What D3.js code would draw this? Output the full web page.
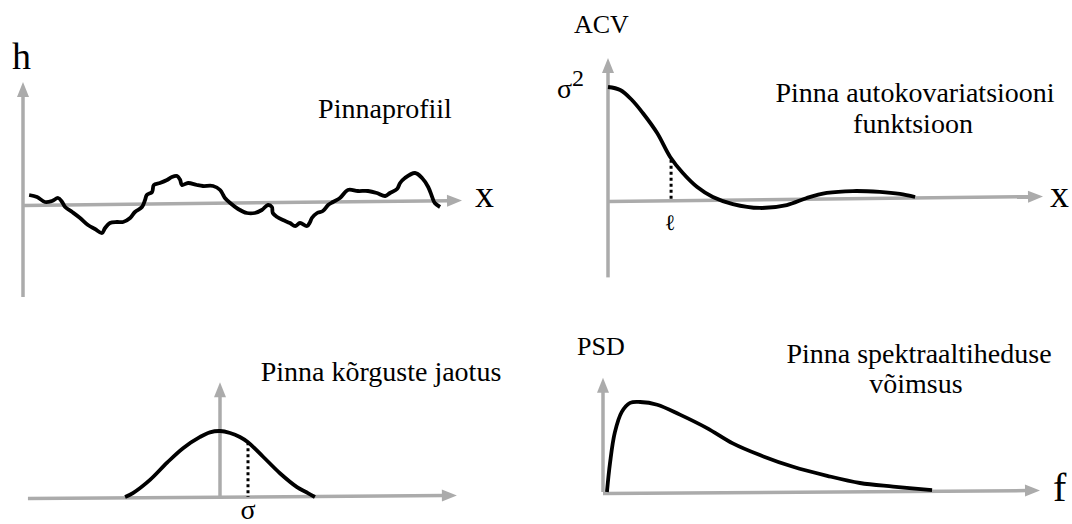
<!DOCTYPE html>
<html>
<head>
<meta charset="utf-8">
<script src="https://cdn.jsdelivr.net/npm/d3@7"></script>
<style>
  body { margin: 0; background: #fff; }
</style>
</head>
<body>
<svg id="chart" width="1072" height="524"></svg>
<script>
// surface profile h(x)
var profileX = [1.4, 3.2, 5.0, 6.6, 8.0, 8.9, 9.6, 11.2, 13.0, 14.8, 16.4, 18.0, 18.7, 19.8, 21.4, 22.8, 24.4, 25.5, 27.1, 27.8,
    28.2, 29.4, 29.8, 31.2, 32.8, 33.9, 35.1, 35.8, 36.2, 37.6, 39.6, 41.0, 43.3, 44.9, 45.6, 46.0, 47.2, 49.0, 51.0, 52.8,
    54.4, 55.8, 56.7, 56.9, 57.9, 59.2, 60.8, 62.0, 63.1, 64.7, 65.4, 65.8, 67.0, 68.3, 69.5, 70.6, 72.2, 74.0, 76.3, 78.6,
    80.6, 82.5, 83.6, 85.2, 85.9, 87.0, 89.3, 90.9, 92.3, 93.2, 93.8, 95.0];
var profileH = [0.8, 0.6, 0.1, 0.2, 0.5, 0.1, -0.4, -0.9, -1.5, -2.2, -2.6, -3.0, -2.5, -2.0, -1.9, -1.9, -1.5, -0.9, -0.4, 0.3,
    0.8, 1.1, 1.8, 2.0, 2.3, 2.6, 2.7, 2.3, 1.8, 2.0, 1.8, 1.7, 1.7, 1.3, 0.8, 0.5, 0.0, -0.6, -1.0, -1.0,
    -0.7, -0.2, -0.4, -1.0, -1.4, -1.7, -2.0, -2.3, -2.0, -2.3, -1.9, -1.5, -1.0, -0.8, -0.2, 0.1, 0.5, 1.3, 1.2, 1.2,
    1.0, 0.7, 1.0, 1.4, 2.0, 2.5, 3.0, 2.5, 1.6, 0.6, 0.0, -0.4];

// autocovariance (normalised to sigma^2 = 1)
var acvX = [0, 2.8, 5.5, 8.0, 11.3, 14.3, 17.2, 20.5, 24.1, 28.7, 34.9, 41.1, 45.7, 50.3, 56.3, 62.5, 67.1, 70.6];
var acvY = [1.0, 0.973, 0.884, 0.768, 0.589, 0.375, 0.232, 0.107, 0.018, -0.045, -0.080, -0.054, 0.009, 0.054, 0.071, 0.063, 0.045, 0.018];
var corrLength = 14.5, corrLengthAcv = 0.35;

// height distribution (x in sigma units, peak = 1)
var heightX = [-3.39, -3.11, -2.5, -1.89, -1.32, -0.71, -0.36, 0, 0.36, 0.71, 1.0, 1.54, 2.14, 2.75, 3.14, 3.39];
var heightP = [0, 0.06, 0.26, 0.52, 0.74, 0.91, 0.98, 1, 0.97, 0.91, 0.83, 0.61, 0.36, 0.15, 0.06, 0];
var sigma = 1, sigmaP = 0.83;

// power spectral density (peak = 1)
var psdF = [0.9, 1.6, 2.7, 4.3, 6.2, 8.5, 12.4, 17.6, 23.8, 29.7, 35.9, 43.5, 51.3, 58.8, 66.4, 75.3];
var psdP = [0, 0.32, 0.66, 0.89, 0.99, 1.0, 0.97, 0.86, 0.71, 0.54, 0.41, 0.28, 0.18, 0.10, 0.06, 0.02];

var axisColor = "#ababab";
var serif = "'Liberation Serif', 'Times New Roman', Times, 'DejaVu Serif', serif";
var svg = d3.select("#chart");

function zip(a, b) { return a.map(function(v, i) { return [v, b[i]]; }); }

function arrow(x1, y1, x2, y2) {
    // shaft stops short of the tip, head drawn as a triangle
    var dx = x2 - x1, dy = y2 - y1, len = Math.sqrt(dx * dx + dy * dy);
    var ux = dx / len, uy = dy / len, head = 15, half = 6;
    svg.append("line")
        .attr("x1", x1).attr("y1", y1)
        .attr("x2", x2 - ux * (head - 2)).attr("y2", y2 - uy * (head - 2))
        .attr("stroke", axisColor).attr("stroke-width", 3.5);
    var bx = x2 - ux * head, by = y2 - uy * head;
    svg.append("path")
        .attr("d", "M" + x2 + "," + y2 + "L" + (bx - uy * half) + "," + (by + ux * half) +
            "L" + (bx + uy * half) + "," + (by - ux * half) + "Z")
        .attr("fill", axisColor);
}

function axes(x, y, p) {
    arrow(x(p.x0), y(0) + p.tilt, x(p.x1), y(0) - p.tilt);
    arrow(x(p.vx), y(p.y0), x(p.vx), y(p.y1));
}

function curve(x, y, data, c) {
    svg.append("path")
        .datum(data)
        .attr("d", d3.line().x(function(d) { return x(d[0]); }).y(function(d) { return y(d[1]); }).curve(c))
        .attr("fill", "none").attr("stroke", "#000").attr("stroke-width", 3.8)
        .attr("stroke-linejoin", "round").attr("stroke-linecap", "butt");
}

function dotted(x, y, xv, yv) {
    svg.append("line")
        .attr("x1", x(xv)).attr("x2", x(xv)).attr("y1", y(yv)).attr("y2", y(0))
        .attr("stroke", "#000").attr("stroke-width", 3).attr("stroke-dasharray", "3,3");
}

function label(txt, x, y, size, anchor) {
    return svg.append("text").attr("x", x).attr("y", y)
        .attr("font-family", serif).attr("fill", "#000")
        .attr("font-size", size).attr("text-anchor", anchor || "start").text(txt);
}

// --- panel A: surface profile
var xA = d3.scaleLinear().domain([0, 100]).range([23, 462]);
var yA = d3.scaleLinear().domain([0, 1]).range([203, 193]);
axes(xA, yA, {x0: 0, x1: 100, tilt: 2.5, vx: 0, y0: -9.4, y1: 12.1});
curve(xA, yA, zip(profileX, profileH), d3.curveCatmullRom);
label("h", 12, 69, 38);
label("x", 475, 207, 38);
label("Pinnaprofiil", 385, 118, 28, "middle");

// --- panel B: autocovariance
var xB = d3.scaleLinear().domain([0, 100]).range([608, 1043]);
var yB = d3.scaleLinear().domain([0, 1]).range([199, 87]);
axes(xB, yB, {x0: 0, x1: 100, tilt: 2.5, vx: 0, y0: -0.7, y1: 1.26});
curve(xB, yB, zip(acvX, acvY), d3.curveCatmullRom);
dotted(xB, yB, corrLength, corrLengthAcv);
label("ℓ", xB(corrLength) - 1, 230, 22, "middle");
label("x", 1050, 207, 38);
label("ACV", 574, 33, 26);
var s2 = label("σ", 557, 98, 28);
s2.append("tspan").attr("dy", -12).attr("font-size", 24).text("2");
label("Pinna autokovariatsiooni", 915, 102, 28, "middle");
label("funktsioon", 913, 133, 28, "middle");

// --- panel C: height distribution
var xC = d3.scaleLinear().domain([0, 1]).range([220, 248]);
var yC = d3.scaleLinear().domain([0, 1]).range([497, 431]);
axes(xC, yC, {x0: -6.86, x1: 8.46, tilt: 1.5, vx: 0, y0: 0, y1: 1.74});
curve(xC, yC, zip(heightX, heightP), d3.curveCatmullRom);
dotted(xC, yC, sigma, sigmaP);
label("σ", xC(sigma), 519, 28, "middle");
label("Pinna kõrguste jaotus", 381, 381, 28, "middle");

// --- panel D: PSD
var xD = d3.scaleLinear().domain([0, 100]).range([603, 1040]);
var yD = d3.scaleLinear().domain([0, 1]).range([492, 402]);
axes(xD, yD, {x0: 0, x1: 100, tilt: 1.5, vx: 0, y0: 0, y1: 1.27});
curve(xD, yD, zip(psdF, psdP), d3.curveCatmullRom);
label("f", 1053, 501, 40);
label("PSD", 577, 355, 26);
label("Pinna spektraaltiheduse", 919, 363, 28, "middle");
label("võimsus", 916, 393, 28, "middle");
</script>
</body>
</html>
